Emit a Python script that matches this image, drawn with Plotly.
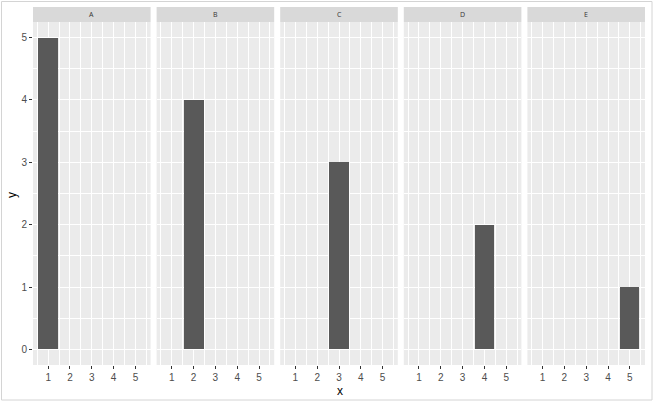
import plotly.graph_objects as go
from plotly.subplots import make_subplots

# facet data
panels = ["A", "B", "C", "D", "E"]
x_vals = [1, 2, 3, 4, 5]
y_vals = [5, 4, 3, 2, 1]
x_ticks = [1, 2, 3, 4, 5]
y_ticks = [0, 1, 2, 3, 4, 5]

W, H = 660, 402
ml, mr, mt, mb = 33, 15, 22, 37
pw = W - ml - mr
ph = H - mt - mb

fig = make_subplots(rows=1, cols=5, shared_yaxes=True,
                    horizontal_spacing=6 / pw)

for i, p in enumerate(panels):
    fig.add_trace(go.Bar(
        x=[x_vals[i]], y=[y_vals[i]], width=0.9,
        marker=dict(color="#595959", line=dict(width=0)),
        showlegend=False, hoverinfo="skip"), row=1, col=i + 1)

    # strip on top of each panel
    xr = "x domain" if i == 0 else f"x{i+1} domain"
    fig.add_shape(type="rect", xref=xr, yref="paper",
                  x0=0, x1=1, y0=1, y1=1 + 15 / ph,
                  fillcolor="#D9D9D9", line=dict(width=0), layer="below")
    fig.add_annotation(text=p, xref=xr, yref="paper", x=0.5, y=1 + 7.5 / ph,
                       xanchor="center", yanchor="middle",
                       showarrow=False, font=dict(size=7, color="#333333"))

fig.update_xaxes(
    range=[0.305, 5.695], tickvals=x_ticks, ticks="outside", ticklen=3,
    tickcolor="#333333", tickwidth=1,
    tickfont=dict(family="Liberation Sans, Arial", size=10, color="#4D4D4D"),
    showgrid=True, gridcolor="white", gridwidth=1.1, zeroline=False,
    showline=False, fixedrange=True,
    minor=dict(tickvals=[0.5, 1.5, 2.5, 3.5, 4.5, 5.5], showgrid=True,
               gridcolor="white", gridwidth=0.5, ticks=""))
fig.update_yaxes(
    range=[-0.25, 5.25], tickvals=y_ticks,
    showgrid=True, gridcolor="white", gridwidth=1.1, zeroline=False,
    showline=False, fixedrange=True,
    minor=dict(tickvals=[0.5, 1.5, 2.5, 3.5, 4.5], showgrid=True,
               gridcolor="white", gridwidth=0.5, ticks=""))
fig.update_yaxes(ticks="outside", ticklen=3, tickcolor="#333333", tickwidth=1,
                 tickfont=dict(family="Liberation Sans, Arial", size=10,
                               color="#4D4D4D"), row=1, col=1)

# axis titles
fig.add_annotation(text="x", xref="paper", yref="paper", x=(340 - ml) / pw,
                   y=-(391 - (H - mb)) / ph, xanchor="center", yanchor="middle",
                   showarrow=False,
                   font=dict(family="Liberation Sans, Arial", size=12, color="black"))
fig.add_annotation(text="y", xref="paper", yref="paper", x=(12 - ml) / pw,
                   y=((H - mb) - 195) / ph, xanchor="center", yanchor="middle",
                   showarrow=False, textangle=-90,
                   font=dict(family="Liberation Sans, Arial", size=12, color="black"))

# light window frame around the picture
fig.add_shape(type="rect", xref="paper", yref="paper",
              x0=(1.5 - ml) / pw, x1=(652 - ml) / pw,
              y0=-(400 - (H - mb)) / ph, y1=((H - mb) - 1.5) / ph,
              line=dict(color="#D4D4D4", width=1), fillcolor="rgba(0,0,0,0)")

fig.update_layout(
    width=W, height=H,
    margin=dict(l=ml, r=mr, t=mt, b=mb, autoexpand=False),
    paper_bgcolor="white", plot_bgcolor="#EBEBEB",
    bargap=0, showlegend=False,
)

# drop the page's default body margin so the figure sits at the window's corner
fig.write_html("out.html", config={"displayModeBar": False},
               post_script="document.body.style.margin='0';"
                           "document.body.style.overflow='hidden';")
